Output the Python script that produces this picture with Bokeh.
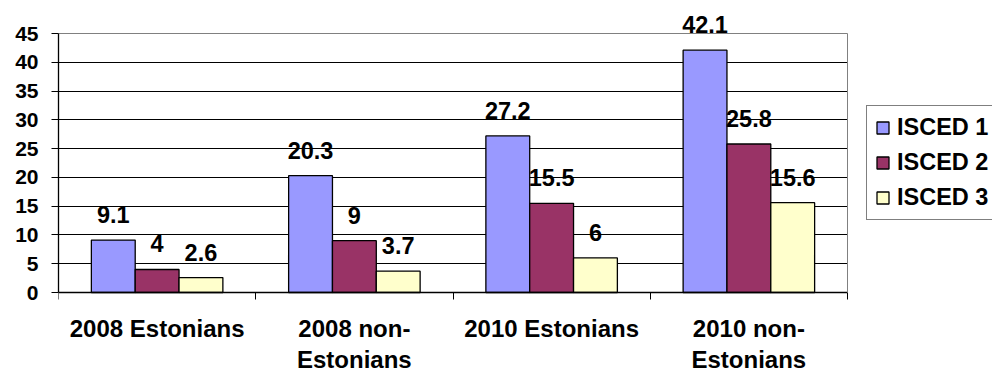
from bokeh.plotting import figure
from bokeh.models import (ColumnDataSource, Range1d, FixedTicker, LabelSet, Legend, LegendItem, LinearAxis)
from bokeh.core.properties import value
from bokeh.transform import dodge
from bokeh.embed import file_html
from bokeh.resources import INLINE

# ---- data ----
categories = ["2008 Estonians", "2008 non-\nEstonians", "2010 Estonians", "2010 non-\nEstonians"]
series_names = ["ISCED 1", "ISCED 2", "ISCED 3"]
isced1 = [9.1, 20.3, 27.2, 42.1]
isced2 = [4, 9, 15.5, 25.8]
isced3 = [2.6, 3.7, 6, 15.6]
y_ticks = [0, 5, 10, 15, 20, 25, 30, 35, 40, 45]

colors = ["#9999FF", "#993366", "#FFFFCC"]
FONT = "Liberation Sans"

# ---- layout (pixels) ----
W, H = 992, 374
LEFT = 58          # frame left (y axis)
PLOT_RIGHT = 847   # right edge of plotting area
TOP = 33           # y = 45
ZERO = 292         # y = 0
n = len(categories)
ymax = y_ticks[-1]
px_per_cat = (PLOT_RIGHT - LEFT) / n
px_per_unit = (ZERO - TOP) / ymax

x_end = (W - LEFT) / px_per_cat
y_end = ZERO / px_per_unit
y_start = -(H - ZERO) / px_per_unit

src = ColumnDataSource(dict(
    xc=[i + 0.5 for i in range(n)],
    isced1=isced1, isced2=isced2, isced3=isced3,
    lab1=[f"{v:g}" for v in isced1],
    lab2=[f"{v:g}" for v in isced2],
    lab3=[f"{v:g}" for v in isced3],
))

p = figure(width=W, height=H, output_backend="svg", toolbar_location=None,
           x_range=Range1d(0, x_end), y_range=Range1d(y_start, y_end),
           x_axis_location=None, y_axis_location=None,
           min_border_left=LEFT, min_border_right=0, min_border_top=0, min_border_bottom=0)
p.background_fill_color = "white"
p.border_fill_color = "white"
p.outline_line_color = None

# grid (limited to the plotting area)
p.xgrid.visible = False
grid_ticks = y_ticks[1:-1]
try:
    p.ygrid.cross_bounds = (0, n)
    p.ygrid.ticker = FixedTicker(ticks=grid_ticks)
    p.ygrid.grid_line_color = "black"
    p.ygrid.grid_line_width = 1
except AttributeError:
    p.ygrid.visible = False
    p.segment(x0=[0] * len(grid_ticks), x1=[n] * len(grid_ticks), y0=grid_ticks, y1=grid_ticks,
              line_color="black", line_width=1, level="underlay")

bw = 1 / 4.5
fields = ["isced1", "isced2", "isced3"]
labs = ["lab1", "lab2", "lab3"]
offsets = [-bw, 0, bw]
renderers = []
for f, lab, off, c in zip(fields, labs, offsets, colors):
    r = p.vbar(x=dodge("xc", off), top=f, width=bw, source=src,
               fill_color=c, line_color="black", line_width=1.3)
    renderers.append(r)
    ls = LabelSet(x=dodge("xc", off), y=f, text=lab, source=src, y_offset=17,
                  text_align="center", text_baseline="alphabetic",
                  text_font=value(FONT), text_font_style="bold", text_font_size="23.5px",
                  text_color="black")
    p.add_layout(ls)

# y axis (left panel)
yaxis = LinearAxis(ticker=FixedTicker(ticks=y_ticks), bounds=(0, ymax))
yaxis.minor_tick_line_color = None
yaxis.major_tick_out = 7
yaxis.major_tick_in = 0
yaxis.major_tick_line_color = "black"
yaxis.axis_line_color = "black"
yaxis.axis_line_width = 1.3
yaxis.major_label_standoff = 13
yaxis.major_label_text_font = FONT
yaxis.major_label_text_font_style = "bold"
yaxis.major_label_text_font_size = "21px"
yaxis.major_label_text_color = "black"
p.add_layout(yaxis, "left")

# x axis fixed at y = 0
xaxis = LinearAxis(fixed_location=0, bounds=(0, n),
                   ticker=FixedTicker(ticks=[i + 0.5 for i in range(n)], minor_ticks=list(range(n + 1))))
xaxis.major_label_overrides = {i + 0.5: c for i, c in enumerate(categories)}
xaxis.major_tick_line_color = None
xaxis.major_tick_out = 0
xaxis.major_tick_in = 0
xaxis.minor_tick_out = 7
xaxis.minor_tick_in = 0
xaxis.minor_tick_line_color = "black"
xaxis.axis_line_color = "black"
xaxis.axis_line_width = 1.3
xaxis.major_label_standoff = 15
xaxis.major_label_text_font = FONT
xaxis.major_label_text_font_style = "bold"
xaxis.major_label_text_font_size = "24px"
xaxis.major_label_text_color = "black"
xaxis.major_label_text_line_height = 1.17
p.add_layout(xaxis, "below")

# plot-area border (top and right, gray)
top_border = LinearAxis(fixed_location=ymax, bounds=(0, n), ticker=FixedTicker(ticks=[]),
                        axis_line_color="#808080", axis_line_width=1,
                        major_tick_line_color=None, minor_tick_line_color=None)
p.add_layout(top_border, "above")
right_border = LinearAxis(fixed_location=n, bounds=(0, ymax), ticker=FixedTicker(ticks=[]),
                          axis_line_color="#808080", axis_line_width=1,
                          major_tick_line_color=None, minor_tick_line_color=None)
p.add_layout(right_border, "right")

legend = Legend(items=[LegendItem(label=s, renderers=[r]) for s, r in zip(series_names, renderers)],
                location=(866 - LEFT, H - 220), orientation="vertical",
                label_text_font=FONT, label_text_font_style="bold", label_text_font_size="23.5px",
                label_text_color="black",
                glyph_width=15, glyph_height=15, label_standoff=7, spacing=8, padding=8,
                border_line_color="black", border_line_width=1.3, background_fill_color="white",
                background_fill_alpha=1, margin=0)
p.add_layout(legend, "center")

open("out.html", "w").write(file_html(p, INLINE))
